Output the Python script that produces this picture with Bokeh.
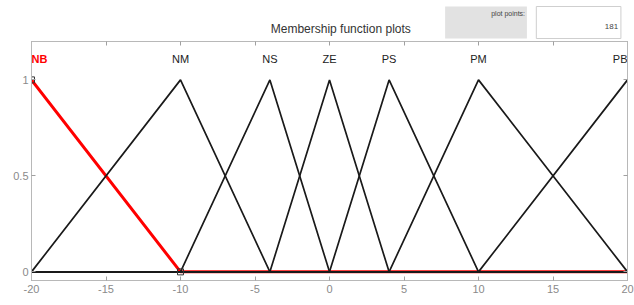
from bokeh.plotting import figure
from bokeh.layouts import column
from bokeh.models import Range1d, LinearAxis, FixedTicker, ColumnDataSource
from bokeh.core.properties import value
from bokeh.embed import file_html
from bokeh.resources import INLINE

# ---- data ----
x_min, x_max = -20, 20
mf_names = ["NB", "NM", "NS", "ZE", "PS", "PM", "PB"]
mf_a = [-20, -20, -10, -4, 0, 4, 10]
mf_b = [-20, -10, -4, 0, 4, 10, 20]
mf_c = [-10, -4, 0, 4, 10, 20, 20]
selected = "NB"
x_ticks = [-20, -15, -10, -5, 0, 5, 10, 15, 20]
y_ticks = [0, 0.5, 1]
plot_points = 181
title_text = "Membership function plots"
points_label = "plot points:"

FONT = "Liberation Sans"
GRAY_TXT = "#8a8a8a"
GRAY_LN = "#b8b8b8"
W = 634
HEAD_H = 41

# ---- header strip (title + plot points boxes) ----
h = figure(width=W, height=HEAD_H, output_backend="svg", toolbar_location=None,
           x_range=Range1d(0, W), y_range=Range1d(HEAD_H, 0),
           min_border=0, x_axis_location=None, y_axis_location=None)
h.xgrid.visible = False
h.ygrid.visible = False
h.outline_line_color = None
h.quad(left=[440], right=[527], top=[6], bottom=[38], fill_color="#e2e2e2", line_color=None)
h.quad(left=[537], right=[627], top=[6], bottom=[38], fill_color="white",
       line_color="#cfcfcf", line_width=1)
h.text(x=[329], y=[28], text=[title_text], text_font=value(FONT), text_font_size="12px",
       text_color="#333333", text_align="center", text_baseline="middle")
h.text(x=[525], y=[13], text=[points_label], text_font=value(FONT), text_font_size="7px",
       text_color="#444444", text_align="right", text_baseline="middle")
h.text(x=[624], y=[26], text=[str(plot_points)], text_font=value(FONT), text_font_size="8px",
       text_color="#444444", text_align="right", text_baseline="middle")

# ---- main plot ----
p = figure(frame_width=596, frame_height=239, output_backend="svg", toolbar_location=None,
           x_range=Range1d(x_min, x_max), y_range=Range1d(-0.045, 1.2),
           min_border_left=31, min_border_right=7, min_border_top=0, min_border_bottom=25,
           x_axis_location=None, y_axis_location=None)
p.xgrid.visible = False
p.ygrid.visible = False
p.outline_line_color = GRAY_LN


def style_axis(ax, ticks, show_labels):
    ax.ticker = FixedTicker(ticks=ticks)
    ax.major_label_overrides = {t: (str(t) if show_labels else "") for t in ticks}
    ax.major_tick_in = 4
    ax.major_tick_out = 0
    ax.minor_tick_in = 0
    ax.minor_tick_out = 0
    ax.axis_line_color = GRAY_LN
    ax.major_tick_line_color = "#a0a0a0"
    ax.major_label_text_color = GRAY_TXT
    ax.major_label_text_font = FONT
    ax.major_label_text_font_size = "11px" if show_labels else "0px"
    ax.major_label_standoff = 3 if show_labels else 0


bx = LinearAxis(); style_axis(bx, x_ticks, True); bx.major_label_standoff = 4
ly = LinearAxis(); style_axis(ly, y_ticks, True)
ly.major_label_overrides = {0: "0", 0.5: "0.5", 1: "1"}
tx = LinearAxis(); style_axis(tx, x_ticks, False)
ry = LinearAxis(); style_axis(ry, y_ticks, False)
p.add_layout(bx, "below")
p.add_layout(ly, "left")
p.add_layout(tx, "above")
p.add_layout(ry, "right")


def mf_points(a, b, c):
    xs, ys = [], []
    if a > x_min:
        xs.append(x_min); ys.append(0)
    if a < b:
        xs.append(a); ys.append(0)
    xs.append(b); ys.append(1)
    if c > b:
        xs.append(c); ys.append(0)
    if c < x_max:
        xs.append(x_max); ys.append(0)
    return xs, ys


# selected MF (red, thick) under the others
for n, a, b, c in zip(mf_names, mf_a, mf_b, mf_c):
    if n == selected:
        xs, ys = mf_points(a, b, c)
        p.line(xs, ys, line_color="#ff0000", line_width=3)
for n, a, b, c in zip(mf_names, mf_a, mf_b, mf_c):
    if n != selected:
        xs, ys = mf_points(a, b, c)
        p.line(xs, ys, line_color="#1a1a1a", line_width=1.7)

# parameter markers of selected MF
si = mf_names.index(selected)
p.scatter([mf_b[si], mf_c[si]], [1, 0], marker="square", size=6,
          fill_color=None, line_color="#333333", line_width=1)

# MF names above the peaks (edge labels aligned inward so they stay visible)
aligns = ["left" if b == x_min else ("right" if b == x_max else "center") for b in mf_b]
lab_src = ColumnDataSource(dict(
    x=mf_b, y=[1.108] * len(mf_b), text=mf_names, align=aligns,
    color=["#ff0000" if n == selected else "#222222" for n in mf_names],
    style=["bold" if n == selected else "normal" for n in mf_names]))
p.text(x="x", y="y", text="text", source=lab_src, text_color="color",
       text_font_style="style", text_font=value(FONT), text_font_size="11px",
       text_align="align", text_baseline="middle")

open("out.html", "w").write(file_html(column(h, p, spacing=0), INLINE))
